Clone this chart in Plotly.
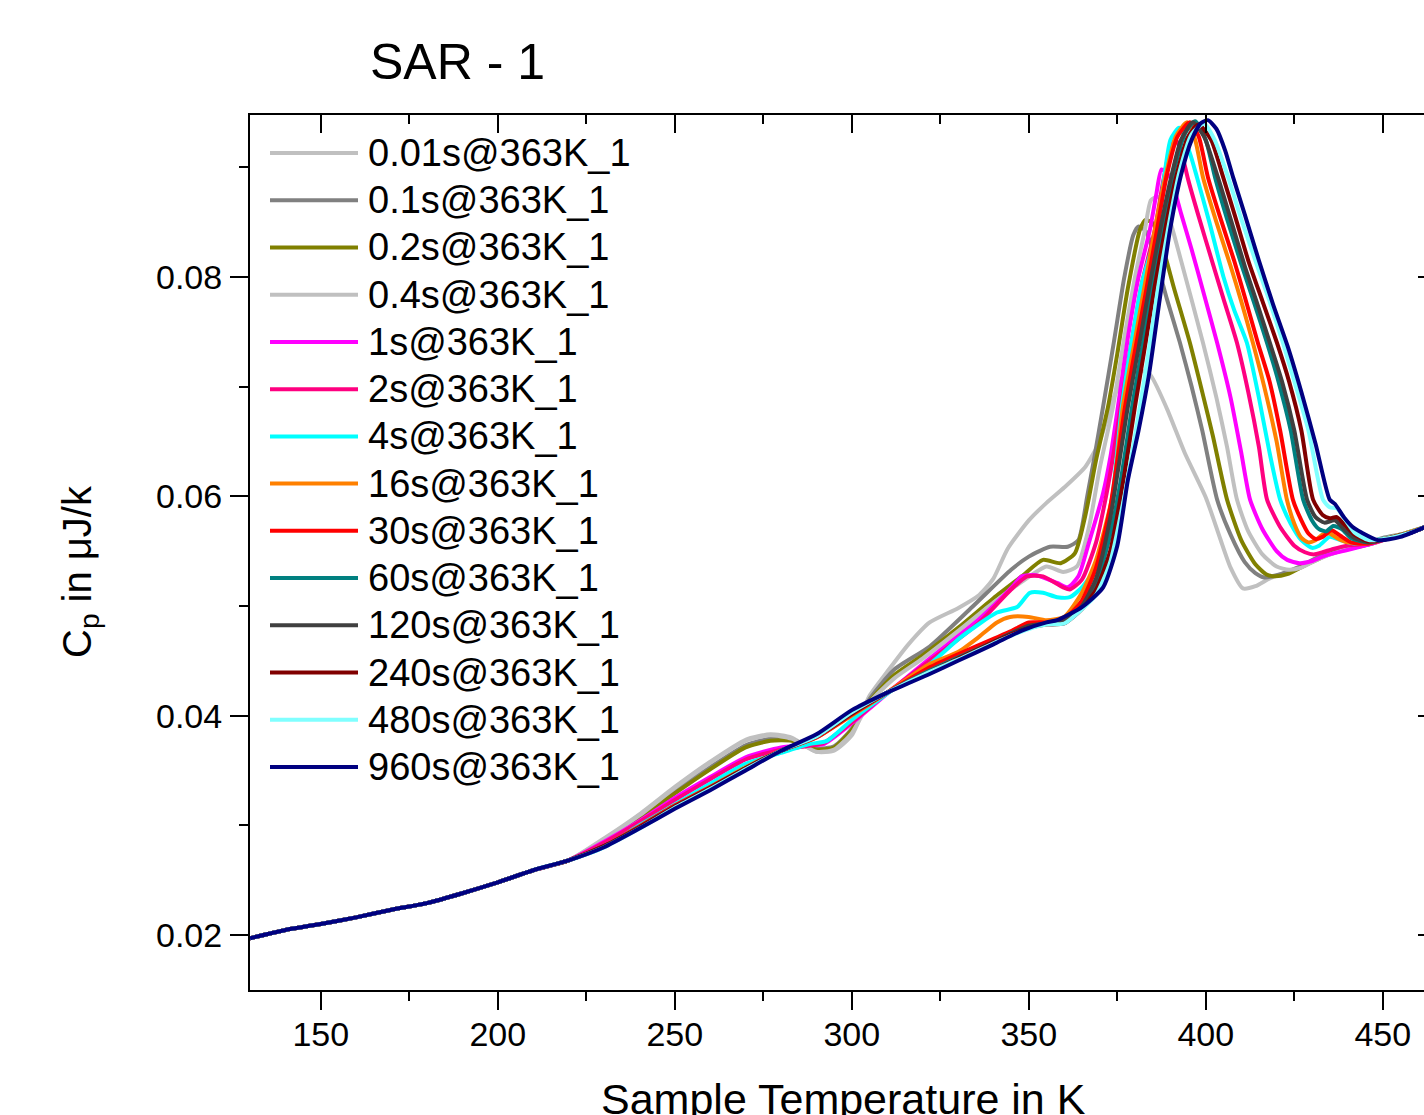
import plotly.graph_objects as go

# ---------------- data ----------------
LABELS = ["0.01s@363K_1", "0.1s@363K_1", "0.2s@363K_1", "0.4s@363K_1", "1s@363K_1",
          "2s@363K_1", "4s@363K_1", "16s@363K_1", "30s@363K_1", "60s@363K_1",
          "120s@363K_1", "240s@363K_1", "480s@363K_1", "960s@363K_1"]
COLORS = ["#C0C0C0", "#808080", "#808000", "#C0C0C0", "#FF00FF", "#FF0080", "#00FFFF",
          "#FF8000", "#FF0000", "#008080", "#404040", "#800000", "#80FFFF", "#000080"]

# shared low-temperature part (all curves overlap there)
T_BASE = [130, 140, 150, 160, 170, 180, 190, 200, 210, 220]
CP_BASE = [0.0197, 0.02045, 0.0210, 0.0216, 0.0223, 0.0229, 0.0238, 0.0248, 0.0259, 0.0268]

T_001 = [230, 240, 250, 260, 270, 277, 283, 290, 295, 300, 305, 310, 316, 322, 330, 336, 340, 344, 350, 355,
         360, 366, 370, 374, 377, 380, 384, 389, 394, 400, 404, 407, 410.5, 414, 418, 422, 428, 434, 440,
         446, 452, 458, 462]
CP_001 = [0.0288, 0.0310, 0.0335, 0.0358, 0.0378, 0.0383, 0.0380, 0.0367, 0.0368, 0.0382, 0.0418, 0.0440,
          0.0465, 0.0485, 0.0498, 0.0510, 0.0525, 0.0552, 0.0578, 0.0594, 0.0608, 0.0627, 0.0650, 0.0690,
          0.0710, 0.0715, 0.0712, 0.0680, 0.0640, 0.0599, 0.0562, 0.0535, 0.0516, 0.0518, 0.0525, 0.0530,
          0.0538, 0.0547, 0.0553, 0.0557, 0.0562, 0.0567, 0.0572]

T_01 = [230, 240, 250, 260, 270, 277, 283, 290, 295, 300, 305, 312, 322, 334, 345, 350, 356, 361, 364, 366.5,
        368.5, 371, 374, 377, 379.5, 381, 383, 386, 389, 392.7, 396, 399, 403.2, 407, 411, 414, 416.5, 420,
        426, 432, 438, 444, 450, 456, 462]
CP_01 = [0.0286, 0.0307, 0.0331, 0.0353, 0.0373, 0.0379, 0.0378, 0.0370, 0.0372, 0.0388, 0.0415, 0.0442,
         0.0463, 0.0499, 0.0533, 0.0545, 0.0554, 0.0554, 0.0560, 0.0600, 0.0635, 0.0682, 0.0740, 0.0800,
         0.0838, 0.0846, 0.0842, 0.0815, 0.0780, 0.0740, 0.0700, 0.0660, 0.0597, 0.0565, 0.0540, 0.0530,
         0.0526, 0.0528, 0.0535, 0.0545, 0.0551, 0.0556, 0.0562, 0.0566, 0.0572]

T_02 = [230, 240, 250, 260, 270, 277, 283, 290, 295, 300, 305, 312, 320, 330, 340, 348, 354, 359, 363, 366,
        369, 372.4, 375, 378, 381.4, 383, 385, 388, 391, 395.5, 399, 402, 406, 410, 414, 417, 419.5, 423,
        428, 434, 440, 446, 452, 458, 462]
CP_02 = [0.0285, 0.0306, 0.0329, 0.0351, 0.0371, 0.0377, 0.0377, 0.0369, 0.0371, 0.0387, 0.0413, 0.0437,
         0.0455, 0.0480, 0.0507, 0.0527, 0.0542, 0.0539, 0.0548, 0.0583, 0.0633, 0.0682, 0.0730, 0.0790,
         0.0843, 0.0852, 0.0849, 0.0825, 0.0790, 0.0740, 0.0695, 0.0655, 0.0597, 0.0560, 0.0538, 0.0529,
         0.0527, 0.0529, 0.0537, 0.0546, 0.0552, 0.0556, 0.0562, 0.0567, 0.0572]

T_04 = [230, 240, 250, 260, 270, 277, 283, 290, 295, 300, 305, 312, 320, 330, 340, 348, 355, 359.7, 363.6,
        367, 370, 373.8, 377, 380, 382.8, 384.5, 386.5, 389, 393, 399.2, 403, 406, 408.8, 412, 416, 420,
        423.5, 427, 432, 438, 444, 450, 456, 462]
CP_04 = [0.0287, 0.0309, 0.0334, 0.0357, 0.0377, 0.0382, 0.0379, 0.0367, 0.0369, 0.0384, 0.0412, 0.0434,
         0.0452, 0.0477, 0.0503, 0.0522, 0.0536, 0.0531, 0.0536, 0.0572, 0.0625, 0.0682, 0.0745, 0.0800,
         0.0843, 0.0870, 0.0873, 0.0860, 0.0815, 0.0740, 0.0690, 0.0645, 0.0597, 0.0568, 0.0547, 0.0536,
         0.0533, 0.0535, 0.0543, 0.0550, 0.0555, 0.0561, 0.0566, 0.0572]

T_1 = [230, 240, 250, 260, 270, 280, 287, 292, 300, 310, 322, 336, 345.5, 348, 352, 358, 361, 364, 367, 371,
       373, 375.2, 378, 381, 384.2, 386, 387.5, 389.9, 393, 396, 399, 403.2, 407, 410, 412.5, 416, 420, 423,
       426.5, 430, 433, 436, 440, 446, 452, 458, 462]
CP_1 = [0.0285, 0.0304, 0.0325, 0.0344, 0.0362, 0.0371, 0.0373, 0.0374, 0.0393, 0.0420, 0.0452, 0.0488,
        0.0518, 0.0527, 0.0528, 0.0521, 0.0517, 0.0527, 0.0558, 0.0603, 0.0635, 0.0682, 0.0745, 0.0800,
        0.0843, 0.0875, 0.0898, 0.0891, 0.0858, 0.0825, 0.0790, 0.0740, 0.0690, 0.0640, 0.0597, 0.0570,
        0.0550, 0.0542, 0.0539, 0.0541, 0.0545, 0.0548, 0.0551, 0.0556, 0.0562, 0.0567, 0.0572]

T_2 = [230, 240, 250, 260, 270, 280, 287, 292, 300, 310, 322, 336, 345, 349.5, 354, 359.7, 361.6, 365, 369,
       372, 374, 376, 379, 382, 385.6, 388, 390, 391.5, 393, 395, 398, 402, 405, 408.8, 412, 415, 417.3, 421,
       425, 428, 430.5, 433, 436, 440, 446, 452, 458, 462]
CP_2 = [0.0284, 0.0303, 0.0323, 0.0342, 0.0360, 0.0369, 0.0372, 0.0375, 0.0394, 0.0421, 0.0450, 0.0485,
        0.0515, 0.0527, 0.0527, 0.0517, 0.0515, 0.0524, 0.0558, 0.0603, 0.0640, 0.0682, 0.0740, 0.0795,
        0.0843, 0.0888, 0.0918, 0.0925, 0.0915, 0.0889, 0.0855, 0.0812, 0.0780, 0.0740, 0.0695, 0.0645,
        0.0597, 0.0572, 0.0555, 0.0549, 0.0547, 0.0549, 0.0552, 0.0555, 0.0557, 0.0562, 0.0567, 0.0572]

T_4 = [230, 240, 250, 260, 270, 280, 288, 293, 300, 310, 322, 331, 341, 346.7, 350.3, 354, 358, 361.6, 365,
       369, 372, 374, 376.3, 379, 382, 386.2, 390, 392.5, 395.5, 397.5, 401, 405, 408, 411.6, 415, 418, 421,
       424, 427, 430, 432, 435, 438, 442, 448, 454, 462]
CP_4 = [0.0280, 0.0300, 0.0319, 0.0338, 0.0356, 0.0366, 0.0374, 0.0377, 0.0396, 0.0420, 0.0447, 0.0472,
        0.0494, 0.0499, 0.0512, 0.0512, 0.0508, 0.0508, 0.0517, 0.0535, 0.0560, 0.0610, 0.0682, 0.0740,
        0.0795, 0.0843, 0.0925, 0.0936, 0.0913, 0.0891, 0.0850, 0.0800, 0.0770, 0.0740, 0.0690, 0.0640,
        0.0597, 0.0575, 0.0560, 0.0553, 0.0555, 0.0563, 0.0560, 0.0557, 0.0560, 0.0564, 0.0572]

T_16 = [230, 240, 250, 260, 270, 280, 290, 300, 310, 322, 330, 336, 341, 344.7, 350, 355, 360, 365, 369,
        373.8, 376.6, 380, 383, 385.6, 388.5, 391.5, 394.7, 397, 399.2, 403, 407, 410, 413.3, 416.5, 420,
        422.9, 425, 427, 429, 431, 433, 435, 437, 440, 445, 450, 456, 462]
CP_16 = [0.0281, 0.0299, 0.0318, 0.0335, 0.0353, 0.0368, 0.0380, 0.0400, 0.0421, 0.0447, 0.0458, 0.0472,
         0.0485, 0.0490, 0.0490, 0.0487, 0.0490, 0.0512, 0.0542, 0.0603, 0.0682, 0.0743, 0.0797, 0.0843,
         0.0890, 0.0928, 0.0941, 0.0925, 0.0891, 0.0850, 0.0810, 0.0778, 0.0740, 0.0700, 0.0650, 0.0597,
         0.0575, 0.0562, 0.0558, 0.0560, 0.0565, 0.0566, 0.0562, 0.0558, 0.0557, 0.0561, 0.0566, 0.0572]

T_30 = [230, 240, 250, 260, 270, 280, 290, 300, 310, 322, 330, 340, 345, 350, 355, 360, 365, 369, 373,
        377.2, 380, 383, 386.2, 389, 392, 395.5, 398, 400.6, 404, 408, 411, 414.7, 418, 421, 424.6, 427,
        429, 431, 433, 435.5, 438, 441, 446, 452, 458, 462]
CP_30 = [0.0281, 0.0299, 0.0318, 0.0335, 0.0352, 0.0368, 0.0380, 0.0401, 0.0421, 0.0444, 0.0456, 0.0470,
         0.0477, 0.0485, 0.0485, 0.0488, 0.0505, 0.0535, 0.0590, 0.0682, 0.0733, 0.0785, 0.0843, 0.0893,
         0.0928, 0.0941, 0.0928, 0.0891, 0.0855, 0.0815, 0.0782, 0.0740, 0.0705, 0.0660, 0.0597, 0.0578,
         0.0566, 0.0561, 0.0563, 0.0569, 0.0564, 0.0558, 0.0557, 0.0562, 0.0567, 0.0572]

T_60 = [230, 240, 250, 260, 270, 280, 290, 300, 310, 322, 330, 340, 345, 350, 355, 360, 365, 369, 373, 376,
        379.2, 382, 385, 387.6, 390.5, 394, 397, 400, 402.6, 406, 410, 413.5, 417.3, 420.5, 424, 427.5, 430,
        432, 434, 436, 438.5, 441, 446, 452, 458, 462]
CP_60 = [0.0281, 0.0298, 0.0317, 0.0334, 0.0352, 0.0368, 0.0381, 0.0402, 0.0421, 0.0441, 0.0453, 0.0467,
         0.0475, 0.0481, 0.0484, 0.0485, 0.0498, 0.0520, 0.0565, 0.0615, 0.0682, 0.0735, 0.0795, 0.0843,
         0.0890, 0.0930, 0.0942, 0.0925, 0.0891, 0.0853, 0.0812, 0.0778, 0.0740, 0.0705, 0.0660, 0.0597,
         0.0578, 0.0570, 0.0568, 0.0573, 0.0570, 0.0562, 0.0558, 0.0562, 0.0567, 0.0572]

T_120 = [230, 240, 250, 260, 270, 280, 290, 300, 310, 322, 330, 340, 345, 350, 355, 360, 365, 369, 373, 378,
         381, 384, 387.1, 390, 393, 396.3, 399.5, 403.4, 407, 411, 414.5, 418.1, 421.5, 425, 428.6, 431,
         433.5, 436.5, 439, 442, 446, 452, 458, 462]
CP_120 = [0.0281, 0.0298, 0.0317, 0.0334, 0.0352, 0.0368, 0.0381, 0.0402, 0.0421, 0.0440, 0.0452, 0.0467,
          0.0475, 0.0482, 0.0484, 0.0486, 0.0500, 0.0525, 0.0580, 0.0682, 0.0735, 0.0790, 0.0843, 0.0888,
          0.0925, 0.0941, 0.0928, 0.0891, 0.0853, 0.0810, 0.0776, 0.0740, 0.0705, 0.0660, 0.0597, 0.0581,
          0.0576, 0.0578, 0.0570, 0.0562, 0.0558, 0.0562, 0.0567, 0.0572]

T_240 = [230, 240, 250, 260, 270, 280, 290, 300, 310, 322, 330, 340, 345, 350, 355, 360, 365, 369, 373, 377,
         380, 383, 385.5, 388.5, 391.5, 395, 398, 401.5, 404.9, 408.5, 412, 416, 420.1, 423.5, 427, 430.3,
         433, 435, 437, 439.5, 442, 446, 452, 458, 462]
CP_240 = [0.0281, 0.0298, 0.0317, 0.0334, 0.0352, 0.0368, 0.0381, 0.0402, 0.0421, 0.0440, 0.0452, 0.0467,
          0.0474, 0.0480, 0.0483, 0.0484, 0.0497, 0.0515, 0.0550, 0.0620, 0.0682, 0.0740, 0.0790, 0.0843,
          0.0890, 0.0928, 0.0939, 0.0925, 0.0891, 0.0853, 0.0815, 0.0778, 0.0740, 0.0705, 0.0660, 0.0597,
          0.0583, 0.0580, 0.0581, 0.0573, 0.0565, 0.0559, 0.0562, 0.0567, 0.0572]

T_480 = [230, 240, 250, 260, 270, 280, 290, 300, 310, 322, 330, 340, 345, 350, 355, 360, 365, 369, 373, 377,
         381.4, 384, 386.5, 389.3, 392.5, 396, 399.5, 402.5, 406.3, 410, 414, 418, 421.8, 425, 429, 433.1,
         435, 437, 439.5, 442, 446, 452, 458, 462]
CP_480 = [0.0280, 0.0297, 0.0316, 0.0333, 0.0351, 0.0368, 0.0381, 0.0403, 0.0421, 0.0440, 0.0451, 0.0466,
          0.0473, 0.0479, 0.0483, 0.0484, 0.0497, 0.0510, 0.0540, 0.0600, 0.0682, 0.0735, 0.0790, 0.0843,
          0.0895, 0.0930, 0.0940, 0.0925, 0.0891, 0.0853, 0.0815, 0.0778, 0.0740, 0.0705, 0.0660, 0.0597,
          0.0590, 0.0589, 0.0578, 0.0567, 0.0560, 0.0562, 0.0567, 0.0572]

T_960 = [230, 240, 250, 260, 270, 280, 290, 300, 310, 322, 330, 340, 348.4, 355, 358, 365, 371, 375, 378,
         381, 384, 387, 389.9, 393, 396, 398.5, 400.6, 403, 405.5, 407.7, 411, 415, 419, 423.2, 427, 431,
         435, 436.5, 439, 441.5, 444, 448.7, 455, 462]
CP_960 = [0.0280, 0.0297, 0.0315, 0.0332, 0.0350, 0.0368, 0.0383, 0.0405, 0.0421, 0.0438, 0.0450, 0.0465,
          0.0478, 0.0485, 0.0487, 0.0499, 0.0517, 0.0555, 0.0615, 0.0660, 0.0712, 0.0780, 0.0843, 0.0893,
          0.0925, 0.0940, 0.0943, 0.0935, 0.0915, 0.0891, 0.0857, 0.0815, 0.0775, 0.0736, 0.0695, 0.0648,
          0.0597, 0.0593, 0.0581, 0.0572, 0.0567, 0.0560, 0.0563, 0.0572]

SERIES_T = [T_001, T_01, T_02, T_04, T_1, T_2, T_4, T_16, T_30, T_60, T_120, T_240, T_480, T_960]
SERIES_CP = [CP_001, CP_01, CP_02, CP_04, CP_1, CP_2, CP_4, CP_16, CP_30, CP_60, CP_120, CP_240, CP_480, CP_960]

X_TICKS = [150, 200, 250, 300, 350, 400, 450]
Y_TICKS = [0.02, 0.04, 0.06, 0.08]

# ---------------- layout constants (pixels) ----------------
W, H = 1424, 1115
L, R, TOP, BOT = 250, 1424, 115, 990
PX_PER_K = 3.54
X_RANGE = [130, 130 + (R - L) / PX_PER_K]
Y_RANGE = [0.01498, 0.09477]
FONT = "Arial, Liberation Sans, sans-serif"


def px_to_paper_x(px):
    return (px - L) / (R - L)


def py_to_paper_y(py):
    return (BOT - py) / (BOT - TOP)


fig = go.Figure()
for lab, col, tx, cy in zip(LABELS, COLORS, SERIES_T, SERIES_CP):
    fig.add_trace(go.Scatter(
        x=T_BASE + tx, y=CP_BASE + cy, mode="lines", name=lab,
        line=dict(color=col, width=4, shape="spline", smoothing=0.6),
        showlegend=False, hoverinfo="skip"))

# helper trace so that the mirrored (top / right) axes are drawn
fig.add_trace(go.Scatter(x=[300], y=[0.05], xaxis="x2", yaxis="y2", mode="markers",
                         marker=dict(opacity=0), showlegend=False, hoverinfo="skip"))

axis_common = dict(showgrid=False, zeroline=False, tickcolor="black", tickwidth=2,
                   linecolor="black", linewidth=2)

fig.update_layout(
    width=W, height=H,
    margin=dict(l=L, r=W - R, t=TOP, b=H - BOT),
    paper_bgcolor="white", plot_bgcolor="white",
    font=dict(family=FONT, color="black"),
    xaxis=dict(range=X_RANGE, tickvals=X_TICKS, ticks="outside", ticklen=18, showline=True,
               tickfont=dict(size=34, family=FONT), ticklabelstandoff=-5,
               minor=dict(dtick=25, tick0=0, ticks="outside", ticklen=9, tickwidth=2, tickcolor="black"),
               **axis_common),
    yaxis=dict(range=Y_RANGE, tickvals=Y_TICKS, ticktext=["0.02", "0.04", "0.06", "0.08"],
               ticks="outside", ticklen=18, showline=True,
               tickfont=dict(size=34, family=FONT), ticklabelstandoff=1,
               minor=dict(dtick=0.01, tick0=0, ticks="outside", ticklen=9, tickwidth=2, tickcolor="black"),
               **axis_common),
    xaxis2=dict(range=X_RANGE, overlaying="x", side="top", anchor="y2", tickvals=X_TICKS,
                ticks="inside", ticklen=18, showline=True, showticklabels=False,
                minor=dict(dtick=25, tick0=0, ticks="inside", ticklen=9, tickwidth=2, tickcolor="black"),
                **axis_common),
    yaxis2=dict(range=Y_RANGE, overlaying="y", side="right", anchor="x2", tickvals=Y_TICKS,
                ticks="inside", ticklen=6, showline=False, showticklabels=False,
                **axis_common),
)

# legend drawn in Origin style (long line samples)
LEG_Y0, LEG_DY = 153, 47.23
for i, (lab, col) in enumerate(zip(LABELS, COLORS)):
    yc = py_to_paper_y(LEG_Y0 + i * LEG_DY)
    fig.add_shape(type="line", xref="paper", yref="paper",
                  x0=px_to_paper_x(270), x1=px_to_paper_x(358), y0=yc, y1=yc,
                  line=dict(color=col, width=4))
    fig.add_annotation(xref="paper", yref="paper", x=px_to_paper_x(366), y=yc,
                       xanchor="left", yanchor="middle", showarrow=False, text=lab,
                       font=dict(size=38, family=FONT, color="black"))

# titles
fig.add_annotation(xref="paper", yref="paper", x=px_to_paper_x(457), y=py_to_paper_y(62),
                   xanchor="center", yanchor="middle", showarrow=False, text="SAR - 1",
                   font=dict(size=50, family=FONT, color="black"))
fig.add_annotation(xref="paper", yref="paper", x=px_to_paper_x(843), y=py_to_paper_y(1099),
                   xanchor="center", yanchor="middle", showarrow=False, text="Sample Temperature in K",
                   font=dict(size=43, family=FONT, color="black"))
fig.add_annotation(xref="paper", yref="paper", x=px_to_paper_x(80), y=py_to_paper_y(572),
                   xanchor="center", yanchor="middle", showarrow=False, textangle=-90,
                   text="C<sub>p</sub> in \u03bcJ/k",
                   font=dict(size=40, family=FONT, color="black"))

fig.write_html("out.html")
